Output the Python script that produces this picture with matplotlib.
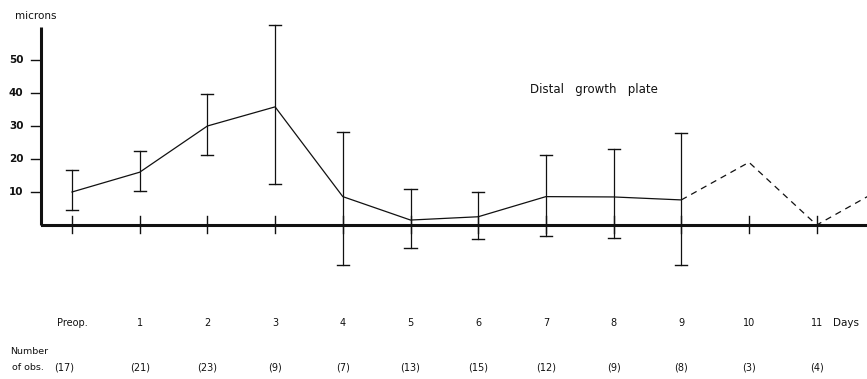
import matplotlib
matplotlib.use("Agg")
import matplotlib.pyplot as plt
from matplotlib.transforms import blended_transform_factory

# ---- data ----
day_labels = ["Preop.", "1", "2", "3", "4", "5", "6", "7", "8", "9", "10", "11"]
n_obs = ["(17)", "(21)", "(23)", "(9)", "(7)", "(13)", "(15)", "(12)", "(9)", "(8)", "(3)", "(4)"]

# solid part with error bars (preop .. day 9)
solid_x = [0, 1, 2, 3, 4, 5, 6, 7, 8, 9]
solid_mean = [10.0, 16.0, 30.0, 35.8, 8.6, 1.5, 2.5, 8.6, 8.5, 7.6]
err_upper = [16.7, 22.4, 39.7, 60.6, 28.3, 11.0, 10.0, 21.1, 22.9, 28.0]
err_lower = [4.5, 10.3, 21.2, 12.4, -12.0, -7.0, -4.2, -3.2, -4.0, -12.0]

# dashed part (day 9 .. beyond day 11)
dash_x = [9, 10, 11, 12]
dash_mean = [7.6, 19.0, 0.0, 11.5]

y_ticks = [10, 20, 30, 40, 50]

W, H = 867, 379
fig = plt.figure(figsize=(W / 100, H / 100), dpi=100)
fig.patch.set_facecolor("white")

# axes placed in pixel coords: x from 41 to 867, y from 20 to 270 (from top)
ax = fig.add_axes([41 / W, 1 - 270 / H, (W - 41) / W, 250 / H])
px_per_day = 67.7
px_per_um = 3.3
ax.set_xlim((41 - 72) / px_per_day, (867 - 72) / px_per_day)
ax.set_ylim((225 - 270) / px_per_um, (225 - 20) / px_per_um)
ax.axis("off")

ink = "#111111"
font = "DejaVu Sans"
x0 = ax.get_xlim()[0]

# axes lines
ax.axhline(0, color=ink, lw=2.2, zorder=3)
ax.plot([x0, x0], [0, 60], color=ink, lw=2.2, clip_on=False,
        solid_capstyle="butt")

# y ticks
for t in y_ticks:
    ax.plot([x0 - 0.15, x0], [t, t], color=ink, lw=1.0, clip_on=False)
    ax.text(x0 - 0.26, t, str(t), ha="right", va="center",
            fontsize=7.5, fontweight="bold", color=ink, family=font)

# crosses on the baseline
for i in range(len(day_labels)):
    ax.plot([i, i], [-2.5, 2.7], color=ink, lw=1.0, zorder=3)

# error bars
for x, lo, hi in zip(solid_x, err_lower, err_upper):
    ax.plot([x, x], [lo, hi], color=ink, lw=0.9)
    ax.plot([x - 0.09, x + 0.09], [hi, hi], color=ink, lw=1.0)
    ax.plot([x - 0.09, x + 0.09], [lo, lo], color=ink, lw=1.0)

ax.plot(solid_x, solid_mean, color=ink, lw=0.9, zorder=4)
ax.plot(dash_x, dash_mean, color=ink, lw=0.9, ls=(0, (5, 4)), zorder=4)

# texts
fig.text(15 / W, 1 - 16 / H, "microns", fontsize=7.5, color=ink, family=font,
         va="center", ha="left")
fig.text(530 / W, 1 - 90 / H, "Distal   growth   plate", fontsize=8.5,
         color=ink, family=font, va="center", ha="left")

tr = blended_transform_factory(ax.transData, fig.transFigure)
for i, lab in enumerate(day_labels):
    ax.text(i, 1 - 323 / H, lab, transform=tr, ha="center", va="center",
            fontsize=7, color=ink, family=font, clip_on=False)
ax.text(11.43, 1 - 323 / H, "Days", transform=tr, ha="center", va="center",
        fontsize=7.5, color=ink, family=font, clip_on=False)

fig.text(10 / W, 1 - 352 / H, "Number", fontsize=6.8, color=ink, family=font,
         va="center", ha="left")
fig.text(12 / W, 1 - 368 / H, "of obs.", fontsize=6.8, color=ink, family=font,
         va="center", ha="left")
for i, lab in enumerate(n_obs):
    xpos = i if i > 0 else -0.12
    ax.text(xpos, 1 - 368 / H, lab, transform=tr, ha="center", va="center",
            fontsize=7, color=ink, family=font, clip_on=False)

fig.savefig("out.png", dpi=100, facecolor="white")
